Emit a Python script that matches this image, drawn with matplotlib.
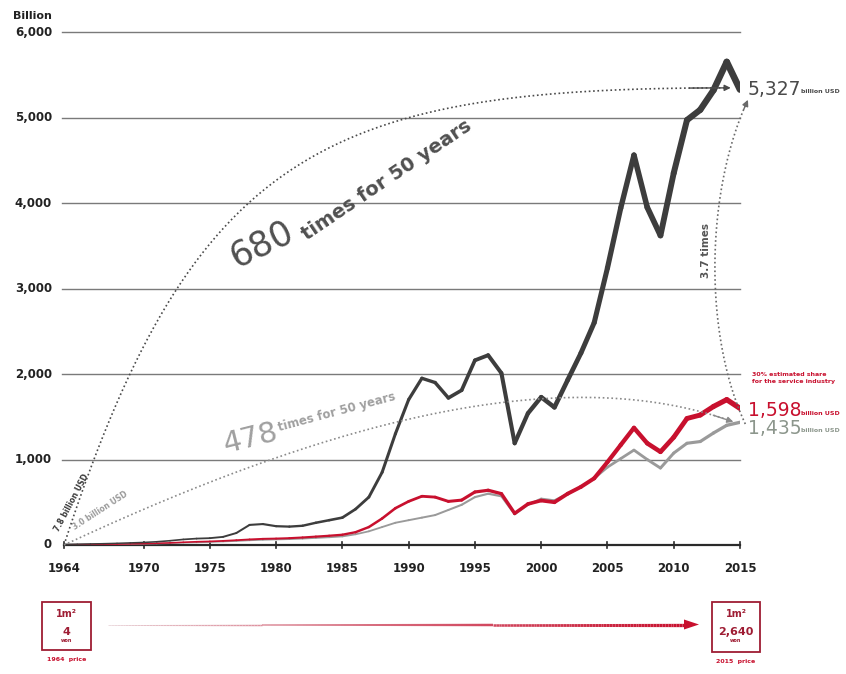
import numpy as np
import matplotlib
matplotlib.use("Agg")
import matplotlib.pyplot as plt
from matplotlib.collections import LineCollection
from matplotlib.patches import Rectangle, Polygon

plt.rcParams['font.family'] = ['DejaVu Sans']

# ---- data -------------------------------------------------------------
years = list(range(1964, 2016))

total = [7.8, 10, 13, 16, 20, 25, 30, 38, 50, 65, 75, 80, 95, 140, 235, 245,
         220, 215, 225, 260, 290, 320, 420, 560, 850, 1300, 1700, 1950, 1900,
         1720, 1810, 2160, 2220, 2010, 1190, 1540, 1730, 1610, 1930, 2245,
         2600, 3240, 3940, 4560, 3950, 3620, 4350, 4970, 5090, 5320, 5650, 5327]

service = [3.5, 4.5, 6, 8, 10, 13, 16, 20, 25, 32, 38, 42, 48, 56, 65, 72,
           75, 80, 88, 98, 108, 120, 150, 210, 310, 430, 510, 570, 560, 510,
           525, 620, 640, 600, 370, 480, 520, 500, 600, 680, 780, 970, 1170,
           1370, 1190, 1090, 1260, 1480, 1520, 1620, 1700, 1598]

goods = [3.0, 3.8, 5, 6.5, 8, 10, 13, 16, 20, 26, 30, 34, 40, 46, 54, 60,
         64, 68, 74, 82, 90, 100, 125, 160, 210, 260, 290, 320, 350, 410,
         470, 560, 600, 570, 360, 470, 540, 520, 600, 680, 780, 910, 1010,
         1110, 1000, 900, 1075, 1190, 1210, 1310, 1400, 1435]

x_ticks = [1964, 1970, 1975, 1980, 1985, 1990, 1995, 2000, 2005, 2010, 2015]
y_ticks = [0, 1000, 2000, 3000, 4000, 5000, 6000]

total_growth = 680
goods_growth = 478
recent_ratio = 3.7
price_1964 = 4
price_2015 = 2640

DARK = '#3d3d3d'
RED = '#c8102e'
GREY = '#9a9a9a'
BOXRED = '#9e1c33'

# ---- figure -----------------------------------------------------------
W, H = 846, 674
fig = plt.figure(figsize=(W / 100, H / 100), dpi=100)
fig.patch.set_facecolor('white')

# strip for the price boxes (pixel space)
bx = fig.add_axes([0, 0, 1, 1], zorder=0)
bx.set_xlim(0, W)
bx.set_ylim(H, 0)
bx.axis('off')

ax = fig.add_axes([64 / W, (H - 545) / H, (740 - 64) / W, (545 - 32) / H], zorder=2)
ax.set_facecolor('none')
ax.set_xlim(years[0], years[-1])
ax.set_ylim(0, 6000)
for s in ax.spines.values():
    s.set_visible(False)
ax.set_xticks([])
ax.set_yticks([])

# horizontal grid
for v in y_ticks[1:]:
    ax.plot([years[0] - 0.15, years[-1]], [v, v], color='#7a7a7a', lw=1.0,
            clip_on=False, zorder=1)
# x axis with crossing ticks
ax.plot([years[0], years[-1]], [0, 0], color='#2a2a2a', lw=1.6, clip_on=False, zorder=3)
for t in x_ticks:
    ax.plot([t, t], [-40, 40], color='#2a2a2a', lw=1.2, clip_on=False, zorder=3)
    ax.text(t, -270, str(t), ha='center', va='center', fontsize=8.5,
            fontweight='bold', color='#222222')
for v in y_ticks:
    ax.text(years[0] - 0.9, v, f'{v:,}', ha='right', va='center', fontsize=8.5,
            fontweight='bold', color='#222222')
ax.text(years[0] - 0.9, 6190, 'Billion', ha='right', va='center', fontsize=8,
        fontweight='bold', color='#222222')


def tapered(xv, yv, color, w0, w1, power, z):
    pts = np.column_stack([xv, yv]).astype(float)
    segs = np.stack([pts[:-1], pts[1:]], axis=1)
    t = np.linspace(0, 1, len(segs))
    widths = w0 + (w1 - w0) * t ** power
    lc = LineCollection(segs, linewidths=widths, colors=color,
                        capstyle='round', joinstyle='round', zorder=z)
    ax.add_collection(lc)


tapered(years, goods, GREY, 1.0, 2.4, 2.0, 4)
tapered(years, service, RED, 1.0, 3.8, 1.6, 5)
tapered(years, total, DARK, 1.0, 4.8, 1.6, 6)


# ---- dotted growth arcs -----------------------------------------------
def arc(p0, p3, a0, a3, h0, h3, n=200):
    T = ax.transData
    P0 = T.transform(p0)
    P3 = T.transform(p3)
    r0, r3 = np.radians(a0), np.radians(a3)
    P1 = P0 + h0 * np.array([np.cos(r0), np.sin(r0)])
    P2 = P3 - h3 * np.array([np.cos(r3), np.sin(r3)])
    t = np.linspace(0, 1, n)[:, None]
    pts = ((1 - t) ** 3) * P0 + 3 * ((1 - t) ** 2) * t * P1 + 3 * (1 - t) * t ** 2 * P2 + t ** 3 * P3
    return T.inverted().transform(pts)


def dotted(pts, color, lw=1.2):
    ax.plot(pts[:, 0], pts[:, 1], color=color, lw=lw, ls=(0, (1, 1.6)),
            clip_on=False, zorder=7)
    ax.annotate('', xy=pts[-1], xytext=pts[-8],
                arrowprops=dict(arrowstyle='-|>', color=color, lw=1.0,
                                mutation_scale=9, shrinkA=0, shrinkB=0),
                zorder=7, annotation_clip=False)


big = arc((years[0], 0), (years[-1] - 0.7, total[-1] + 20), 72, 0, 420, 400)
dotted(big, '#4a4a4a')
low = arc((years[0], 0), (years[-1] - 0.5, goods[-1] + 5), 25, -20, 250, 200)
dotted(low, '#8a8a8a')
up = arc((years[-1] + 0.4, goods[-1] - 20), (years[-1] + 0.6, total[-1] - 120),
         115, 65, 100, 100)
dotted(up, '#6a6a6a')

# arc captions
ax.text(1977.0, 3240, f'{total_growth}', fontsize=25, color='#505050',
        rotation=26, rotation_mode='anchor', ha='left', va='baseline')
ax.text(1982.3, 3560, 'times for 50 years', fontsize=14, fontweight='bold',
        color='#505050', rotation=34, rotation_mode='anchor', ha='left', va='baseline')
ax.text(1976.2, 1080, f'{goods_growth}', fontsize=21, color='#a0a0a0',
        rotation=14, rotation_mode='anchor', ha='left', va='baseline')
ax.text(1980.2, 1330, 'times for 50 years', fontsize=8.5, fontweight='bold',
        color='#a0a0a0', rotation=15, rotation_mode='anchor', ha='left', va='baseline')
ax.text(1963.6, 150, '7.8 billion USD', fontsize=5.5, fontweight='bold',
        color='#3a3a3a', rotation=62, rotation_mode='anchor', ha='left', va='baseline')
ax.text(1964.8, 180, '3.0 billion USD', fontsize=5.5, fontweight='bold',
        color='#9a9a9a', rotation=33, rotation_mode='anchor', ha='left', va='baseline')
ax.text(2012.4, 3450, f'{recent_ratio} times', fontsize=7.5, fontweight='bold',
        color='#555555', rotation=90, ha='center', va='center')

# end values
def end_label(y, value, color, dy=0):
    t = ax.text(years[-1] + 0.6, y + dy, f'{value:,}', fontsize=13.5, color=color,
                ha='left', va='center', clip_on=False)
    ax.annotate('billion USD', xy=(years[-1] + 0.6, y + dy), xytext=(38, -1.5),
                textcoords='offset points', fontsize=4.5, fontweight='bold',
                color=color, ha='left', va='center', annotation_clip=False)
    return t


end_label(total[-1], total[-1], '#4a4a4a', 0)
end_label(service[-1], service[-1], RED, -30)
end_label(goods[-1], goods[-1], '#8c968c', -70)
ax.text(years[-1] + 0.9, 1950, '30% estimated share\nfor the service industry',
        fontsize=4.5, fontweight='bold', color=RED, ha='left', va='center',
        linespacing=1.5)

# ---- price boxes and arrow --------------------------------------------
def price_box(x0, y0, w, h, price, label):
    bx.add_patch(Rectangle((x0, y0), w, h, fill=False, ec=BOXRED, lw=1.3))
    cx = x0 + w / 2
    bx.text(cx, y0 + 12, '1m²', fontsize=7, fontweight='bold', color=BOXRED,
            ha='center', va='center')
    bx.text(cx, y0 + 30, f'{price:,}', fontsize=8, fontweight='bold', color=BOXRED,
            ha='center', va='center')
    bx.text(cx, y0 + 39, 'won', fontsize=3.5, fontweight='bold', color=BOXRED,
            ha='center', va='center')
    bx.text(cx, y0 + h + 9, label, fontsize=4.5, fontweight='bold', color=RED,
            ha='center', va='center')


price_box(42, 602, 49, 48, price_1964, '1964  price')
price_box(712, 602, 48, 50, price_2015, '2015  price')

xs = np.linspace(108, 688, 200)
ys = np.full_like(xs, 624.5)
pts = np.column_stack([xs, ys])
segs = np.stack([pts[:-1], pts[1:]], axis=1)
frac = np.linspace(0, 1, len(segs))
c0 = np.array(matplotlib.colors.to_rgb('#e9d6da'))
c1 = np.array(matplotlib.colors.to_rgb(RED))
cols = c0 + (c1 - c0) * frac[:, None] ** 0.8
bx.add_collection(LineCollection(segs, colors=cols, linewidths=0.6 + 1.8 * frac))
bx.add_patch(Polygon([[684, 619.5], [699, 624.5], [684, 629.5]], closed=True,
                     fc=RED, ec='none'))

fig.savefig('out.png', dpi=100, facecolor='white')
